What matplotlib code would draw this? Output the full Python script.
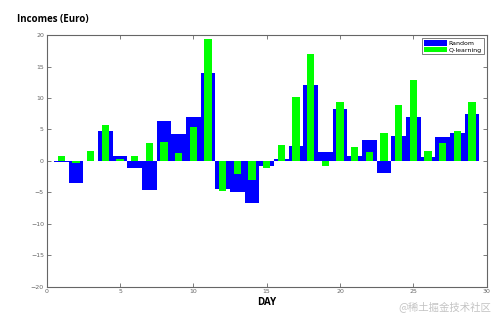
import numpy as np
import matplotlib
matplotlib.use('Agg')
import matplotlib.pyplot as plt

# daily incomes
days = list(range(1, 30))
random_income = [-0.2, -3.6, 0.0, 4.8, 0.7, -1.1, -4.6, 6.3, 4.2, 7.0,
                 14.0, -4.5, -4.9, -6.7, -0.8, 0.25, 2.4, 12.0, 1.4, 8.3,
                 0.7, 3.3, -2.0, 4.0, 7.0, 0.65, 3.8, 4.5, 7.5]
qlearn_income = [0.8, -0.4, 1.5, 5.7, 0.3, 0.8, 2.9, 3.0, 1.2, 5.4,
                 19.3, -4.8, -2.1, -3.0, -1.1, 2.55, 10.2, 17.0, -0.75, 9.4,
                 2.15, 1.35, 4.4, 8.9, 12.9, 1.55, 2.9, 4.8, 9.4]
xticks = [0, 5, 10, 15, 20, 25, 30]
yticks = [-20, -15, -10, -5, 0, 5, 10, 15, 20]

fig = plt.figure(figsize=(5.02, 3.22), dpi=100)
ax = fig.add_axes([0.093, 0.110, 0.8765, 0.781])

ax.bar(days, random_income, width=1.0, color='#0000ff', linewidth=0, label='Random')
ax.bar(days, qlearn_income, width=0.5, color='#00ff00', linewidth=0, label='Q-learning')

ax.set_xlim(0, 30)
ax.set_ylim(-20, 20)
ax.set_xticks(xticks)
ax.set_yticks(yticks)
ax.tick_params(direction='in', length=3, width=0.6, labelsize=4.5, colors='#666666',
               top=True, right=True, pad=2)
for sp in ax.spines.values():
    sp.set_color('#666666')
    sp.set_linewidth(0.8)

ax.set_xlabel('DAY', fontsize=7, fontweight='bold', labelpad=2, family='Open Sans')
fig.text(0.034, 0.922, 'Incomes (Euro)', fontsize=7, fontweight='bold', va='bottom',
         family='Open Sans')

leg = ax.legend(loc='upper right', fontsize=4.5, frameon=True, fancybox=False,
                borderpad=0.3, handlelength=3.6, handleheight=1.0,
                labelspacing=0.1, handletextpad=0.3, borderaxespad=0.5)
leg.get_frame().set_edgecolor('#444444')
leg.get_frame().set_linewidth(0.6)

fig.text(0.978, 0.03, '@稀土掘金技术社区', fontsize=7.5, color='#c4c4c4', ha='right',
         va='bottom', family=['Noto Sans CJK SC', 'DejaVu Sans'])

plt.savefig('out.png', dpi=100)
